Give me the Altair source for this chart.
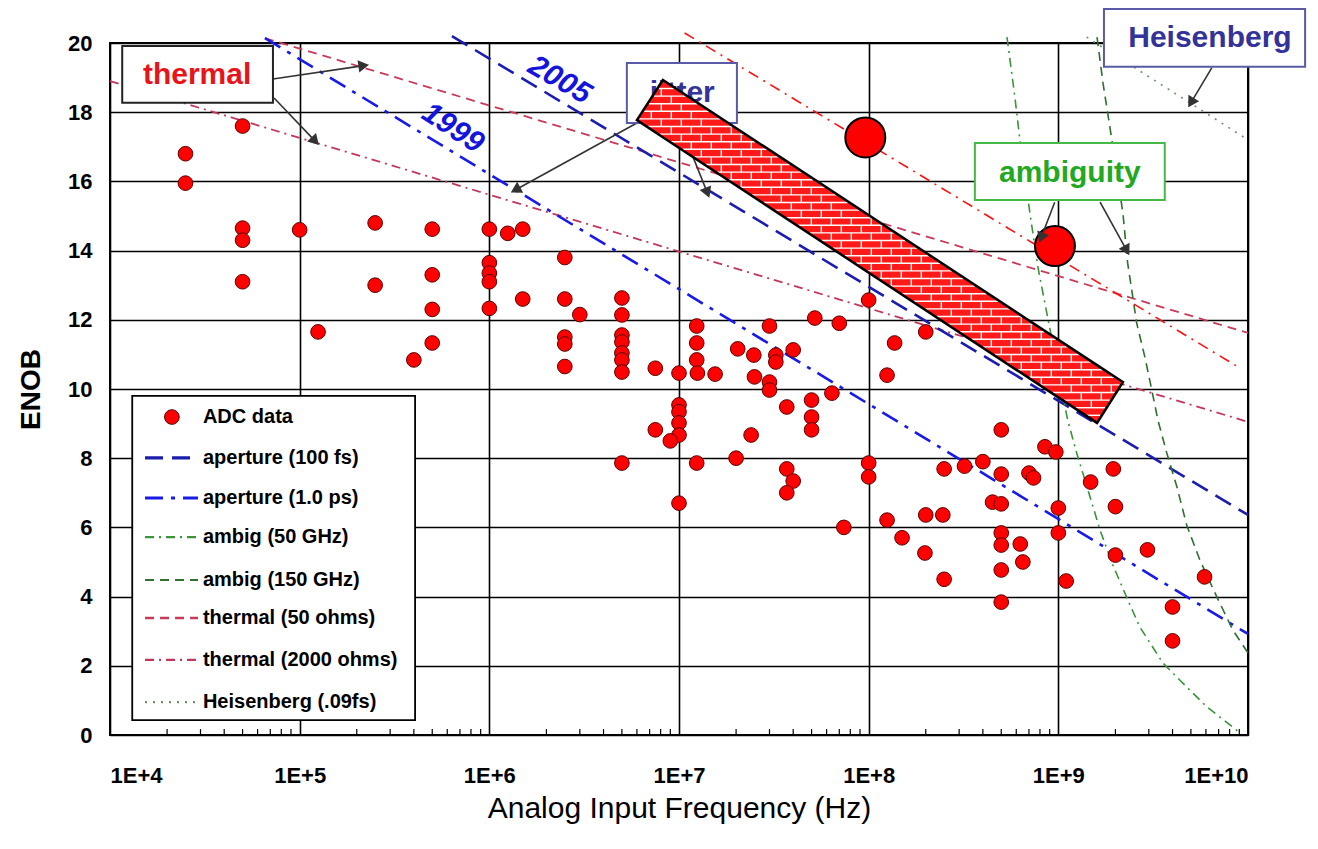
import numpy as np
import pandas as pd
import altair as alt

# ---------------------------------------------------------------- layout
W, H = 1138, 692
PX_DEC = W / 6.0      # pixels per decade (x)
PX_E = H / 20.0       # pixels per ENOB bit (y)
SANS = "'Liberation Sans', Arial, sans-serif"

# ---------------------------------------------------------------- data
adc_freq = [2.5e4, 2.5e4, 5e4, 5e4, 5e4, 5e4, 1e5, 1.25e5, 2.5e5, 2.5e5,
            4e5, 5e5, 5e5, 5e5, 5e5, 1e6, 1e6, 1e6, 1e6, 1e6,
            1.25e6, 1.5e6, 1.5e6, 2.5e6, 2.5e6, 2.5e6, 2.5e6, 2.5e6, 3e6,
            5e6, 5e6, 5e6, 5e6, 5e6, 5e6, 5e6,
            7.5e6, 1e7, 1.24e7, 1.24e7, 1.24e7, 1.25e7, 1.55e7,
            1e7, 1e7, 1e7, 1e7, 7.5e6, 9e6, 5e6, 1.24e7, 2e7, 1e7,
            2.04e7, 2.48e7, 2.5e7, 3e7, 3.24e7, 3.24e7, 3e7, 3e7, 4e7, 5.2e7, 7e7,
            2.4e7, 3.7e7, 3.7e7, 4e7, 3.7e7, 5e7, 5e7, 5e7, 6.4e7,
            1e8, 1e8, 1e8, 7.4e7, 1.25e8, 1.25e8, 1.37e8, 1.5e8, 1.98e8, 2e8, 2.46e8, 2.5e8, 2.5e8,
            3.2e8, 4e8, 5e8, 5e8, 4.5e8, 5e8, 5e8, 5e8, 5e8, 5e8, 6.3e8, 6.5e8, 7e8, 7.4e8,
            8.5e8, 9.7e8, 1e9, 1e9, 1.1e9, 1.48e9, 1.95e9, 2e9, 2e9, 2.95e9, 4e9, 4e9, 5.9e9, 2e8]
adc_enob = [16.8, 15.95, 17.6, 14.65, 14.3, 13.1, 14.6, 11.65, 14.8, 13.0,
            10.84, 14.62, 13.3, 12.3, 11.33, 14.62, 13.65, 13.35, 13.1, 12.33,
            14.5, 14.62, 12.6, 13.8, 12.6, 11.5, 11.3, 10.65, 12.15,
            12.63, 12.14, 11.56, 11.36, 11.04, 10.84, 10.49,
            10.6, 10.46, 11.82, 11.33, 10.84, 10.46, 10.43,
            9.54, 9.34, 9.02, 8.67, 8.82, 8.5, 7.86, 7.86, 8.0, 6.7,
            11.16, 10.98, 10.35, 11.82, 10.98, 10.78, 10.2, 9.97, 11.13, 12.05, 11.9,
            8.67, 9.48, 7.69, 7.34, 7.0, 9.68, 9.19, 8.82, 9.88,
            12.57, 7.86, 7.46, 6.0, 6.21, 10.4, 11.33, 5.7, 5.26, 6.36, 6.36, 4.5, 7.69,
            7.77, 7.9, 8.82, 7.54, 6.73, 6.68, 5.84, 5.49, 4.77, 3.84, 5.52, 5.0, 7.57, 7.43,
            8.33, 8.18, 6.56, 5.84, 4.45, 7.31, 7.69, 6.6, 5.2, 5.35, 3.7, 2.72, 4.57, 11.65]
assert len(adc_freq) == len(adc_enob)

big_freq = [9.6e7, 9.6e8]
big_enob = [17.27, 14.13]

ap100_f = [6.35e5, 1.0e10]
ap100_e = [20.2, 6.36]
ap1ps_f = [6.56e4, 1.0e10]
ap1ps_e = [20.14, 2.92]
th50_f = [6.56e4, 1.0e10]
th50_e = [20.14, 11.62]
th2k_f = [1.0e4, 1.0e10]
th2k_e = [18.9, 9.05]
heis_f = [1.41e9, 1.0e10]
heis_e = [20.17, 17.2]
jit_f = [1.07e7, 8.73e9]
jit_e = [20.29, 10.66]
amb50_f = [5.36e8, 5.90e8, 6.27e8, 7.08e8, 7.80e8, 8.69e8, 1.12e9, 1.25e9, 1.47e9,
           1.66e9, 1.94e9, 2.30e9, 2.69e9, 3.56e9, 4.53e9, 6.07e9, 8.32e9, 9.06e9]
amb50_e = [20.17, 18.44, 17.2, 15.09, 13.53, 12.2, 9.1, 8.15, 6.88,
           5.92, 4.91, 3.96, 3.12, 2.08, 1.5, 0.81, 0.23, 0.06]
amb150_f = [1.60e9, 1.72e9, 1.87e9, 2.19e9, 2.32e9, 2.59e9, 2.86e9, 3.11e9, 3.35e9,
            3.73e9, 4.22e9, 4.75e9, 5.57e9, 6.85e9, 8.32e9, 1.0e10]
amb150_e = [20.17, 18.84, 17.57, 15.09, 13.64, 11.9, 10.92, 9.97, 9.1,
            8.15, 7.17, 6.07, 5.06, 3.99, 3.03, 2.37]

# brick band corners (left, top, right, bottom)
brick_f = [6.0e6, 8.22e6, 2.19e9, 1.60e9]
brick_e = [17.77, 18.93, 10.2, 9.02]

# annotation boxes
box_text = ["thermal", "jitter", "ambiguity", "Heisenberg"]
box_f1 = [1.16e4, 5.31e6, 3.63e8, 1.74e9]
box_f2 = [7.23e4, 2.02e7, 3.64e9, 2.0e10]
box_e1 = [18.27, 17.69, 15.46, 19.31]
box_e2 = [19.91, 19.42, 17.11, 20.98]
box_tf = [2.88e4, 1.04e7, 1.15e9, 6.3e9]
box_te = [19.08, 18.55, 16.24, 20.14]
box_stroke = ["#222222", "#5a5aa8", "#45b845", "#5a5aa8"]
box_color = ["#e8141a", "#333399", "#22a822", "#333399"]

year_text = ["2005", "1999"]
year_f = [2.35e6, 6.43e5]
year_e = [18.93, 17.54]
year_angle = [30, 33]

arrow_f1 = [7.23e4, 7.33e4, 6.0e6, 1.01e7, 9.57e8, 1.66e9, 6.44e9]
arrow_e1 = [18.96, 18.41, 17.69, 17.66, 15.4, 15.4, 19.28]
arrow_f2 = [2.13e5, 1.19e5, 1.40e6, 1.40e7, 8.18e8, 2.27e9, 5.06e9]
arrow_e2 = [19.34, 17.2, 15.78, 15.72, 14.42, 14.05, 18.32]

legend_labels = ["ADC data", "aperture (100 fs)", "aperture (1.0 ps)", "ambig (50 GHz)",
                 "ambig (150 GHz)", "thermal (50 ohms)", "thermal (2000 ohms)", "Heisenberg (.09fs)"]
legend_e = [9.19, 8.01, 6.85, 5.72, 4.48, 3.38, 2.17, 0.95]
legend_box_f = [1.31e4, 4.06e5]
legend_box_e = [0.43, 9.8]
legend_line_f = [1.53e4, 2.91e4]
legend_mark_f = 2.12e4
legend_text_f = 3.09e4

decades = [1e4, 1e5, 1e6, 1e7, 1e8, 1e9, 1e10]
enob_ticks = list(range(0, 21, 2))
minor_ticks = [m * 10 ** k for k in range(4, 10) for m in range(2, 10)]

# ---------------------------------------------------------------- scales / axes
xs = alt.Scale(type="log", domain=[1e4, 1e10], nice=False)
ys = alt.Scale(domain=[0, 20], nice=False, zero=False)

x_axis = alt.Axis(values=decades, labelExpr="'1E+' + round(log(datum.value)/LN10)",
                  grid=True, gridColor="black", gridWidth=1.6, gridOpacity=1,
                  ticks=False, domain=False, labelFont=SANS, labelFontWeight="bold",
                  labelFontSize=22, labelColor="black", labelPadding=30,
                  title="Analog Input Frequency (Hz)", titleFont=SANS, titleFontSize=30,
                  titleFontWeight="normal", titleColor="black", titlePadding=7)
y_axis = alt.Axis(values=enob_ticks, grid=True, gridColor="black", gridWidth=1.6,
                  gridOpacity=1, ticks=False, domain=False, labelFont=SANS,
                  labelFontWeight="bold", labelFontSize=22, labelColor="black",
                  labelPadding=18, title="ENOB", titleFont=SANS, titleFontSize=28,
                  titleFontWeight="bold", titleColor="black", titlePadding=22)


def XE(field="f"):
    return alt.X(f"{field}:Q", scale=xs, axis=x_axis)


def YE(field="e"):
    return alt.Y(f"{field}:Q", scale=ys, axis=y_axis)


layers = []

# ---------------------------------------------------------------- model lines
styles = [
    # key, f, e, color, dash, width, legend index
    ("th2k", th2k_f, th2k_e, "#c2365c", [9, 5, 2, 5], 1.8, 6),
    ("th50", th50_f, th50_e, "#c83a5a", [9, 6], 1.8, 5),
    ("ap1ps", ap1ps_f, ap1ps_e, "#1a1ae8", [18, 8, 4, 8], 2.6, 2),
    ("ap100", ap100_f, ap100_e, "#1c1cae", [18, 9], 2.6, 1),
    ("amb50", amb50_f, amb50_e, "#3c933c", [9, 5, 2, 5], 1.6, 3),
    ("amb150", amb150_f, amb150_e, "#2f6f2f", [9, 6], 1.6, 4),
    ("heis", heis_f, heis_e, "#6f916f", [2, 6], 1.6, 7),
    ("jit", jit_f, jit_e, "#ff1010", [11, 6, 2, 6], 1.6, None),
]
for key, fl, el, color, dash, width, li in styles:
    df = pd.DataFrame({"f": fl, "e": el, "i": list(range(len(fl)))})
    layers.append(
        alt.Chart(df).mark_line(color=color, strokeDash=dash, strokeWidth=width)
        .encode(x=XE(), y=YE(), order="i:Q")
    )

# minor ticks on the frequency axis
layers.append(
    alt.Chart(pd.DataFrame({"f": minor_ticks, "e": 0.0, "e2": 0.17}))
    .mark_rule(color="black", strokeWidth=1.2)
    .encode(x=XE(), y=YE(), y2=alt.Y2("e2:Q"))
)

# ADC data points
layers.append(
    alt.Chart(pd.DataFrame({"f": adc_freq, "e": adc_enob}))
    .mark_point(shape="circle", filled=True, fill="#ff0000", stroke="#5a0000",
                strokeWidth=1, size=215, opacity=1)
    .encode(x=XE(), y=YE())
)
# two big projected points
layers.append(
    alt.Chart(pd.DataFrame({"f": big_freq, "e": big_enob}))
    .mark_point(shape="circle", filled=True, fill="#ff0000", stroke="black",
                strokeWidth=2, size=1600, opacity=1)
    .encode(x=XE(), y=YE())
)

# ---------------------------------------------------------------- arrows
arr_rows, head_rows = [], []
for k in range(len(arrow_f1)):
    arr_rows += [{"f": arrow_f1[k], "e": arrow_e1[k], "id": k, "i": 0},
                 {"f": arrow_f2[k], "e": arrow_e2[k], "id": k, "i": 1}]
    dx = (np.log10(arrow_f2[k]) - np.log10(arrow_f1[k])) * PX_DEC
    dy = (arrow_e2[k] - arrow_e1[k]) * PX_E
    ang = float(np.degrees(np.arctan2(dx, dy)) % 360)
    head_rows.append({"f": arrow_f2[k], "e": arrow_e2[k], "a": ang})
layers.append(
    alt.Chart(pd.DataFrame(arr_rows)).mark_line(color="#333333", strokeWidth=1.6)
    .encode(x=XE(), y=YE(), detail="id:N", order="i:Q")
)
layers.append(
    alt.Chart(pd.DataFrame(head_rows))
    .mark_point(shape="triangle", filled=True, fill="#333333", stroke="#333333",
                size=80, opacity=1)
    .encode(x=XE(), y=YE(), angle=alt.Angle("a:Q", scale=None))
)

# ---------------------------------------------------------------- annotation boxes
box_df = pd.DataFrame({"f": box_f1, "f2": box_f2, "e": box_e1, "e2": box_e2,
                       "sc": box_stroke, "tf": box_tf, "te": box_te,
                       "t": box_text, "c": box_color})
layers.append(
    alt.Chart(box_df).mark_rect(fill="white", strokeWidth=2)
    .encode(x=XE(), x2=alt.X2("f2:Q"), y=YE(), y2=alt.Y2("e2:Q"),
            stroke=alt.Stroke("sc:N", scale=None))
)
layers.append(
    alt.Chart(box_df).mark_text(font=SANS, fontWeight="bold", fontSize=30,
                                align="center", baseline="middle")
    .encode(x=XE("tf"), y=YE("te"), text="t:N", color=alt.Color("c:N", scale=None))
)

# ---------------------------------------------------------------- brick band
bx = np.log10(brick_f) * PX_DEC
by = np.array(brick_e) * PX_E
edges = [((bx[i], by[i]), (bx[(i + 1) % 4], by[(i + 1) % 4])) for i in range(4)]


def x_span(y):
    out = []
    for (x1, y1), (x2, y2) in edges:
        if y1 != y2 and min(y1, y2) <= y <= max(y1, y2):
            out.append(x1 + (y - y1) * (x2 - x1) / (y2 - y1))
    return (min(out), max(out)) if out else None


def y_span(x):
    out = []
    for (x1, y1), (x2, y2) in edges:
        if x1 != x2 and min(x1, x2) <= x <= max(x1, x2):
            out.append(y1 + (x - x1) * (y2 - y1) / (x2 - x1))
    return min(out), max(out)


area_rows = []
for x in sorted(bx):
    lo, hi = y_span(x)
    area_rows.append({"f": 10 ** (x / PX_DEC), "e": hi / PX_E, "e2": lo / PX_E})
area_df = pd.DataFrame(area_rows)

ROW, BRICK = 7.6, 20.0
hrows, joints = [], []
yy, k = by.min(), 0
while yy < by.max():
    top = min(yy + ROW, by.max())
    if top < by.max() - 1:
        s = x_span(top)
        if s and s[1] - s[0] > 3:
            hrows.append({"f": 10 ** ((s[0] + 1.5) / PX_DEC), "f2": 10 ** ((s[1] - 1.5) / PX_DEC),
                          "e": top / PX_E})
    a, b = x_span(yy + 0.01), x_span(top - 0.01)
    if a and b:
        lo, hi = max(a[0], b[0]), min(a[1], b[1])
        xj = np.floor(lo / BRICK) * BRICK + (k % 2) * BRICK / 2
        while xj < hi - 1:
            if xj > lo + 1:
                joints.append({"f": 10 ** (xj / PX_DEC), "e": yy / PX_E, "e2": top / PX_E})
            xj += BRICK
    yy, k = top, k + 1

layers.append(
    alt.Chart(area_df).mark_area(fill="#ff1a1a", opacity=1)
    .encode(x=XE(), y=YE(), y2=alt.Y2("e2:Q"))
)
layers.append(
    alt.Chart(pd.DataFrame(hrows)).mark_rule(color="white", strokeWidth=1.4)
    .encode(x=XE(), x2=alt.X2("f2:Q"), y=YE())
)
layers.append(
    alt.Chart(pd.DataFrame(joints)).mark_rule(color="white", strokeWidth=1.4)
    .encode(x=XE(), y=YE(), y2=alt.Y2("e2:Q"))
)
layers.append(
    alt.Chart(area_df).mark_area(fillOpacity=0, stroke="black", strokeWidth=2.5)
    .encode(x=XE(), y=YE(), y2=alt.Y2("e2:Q"))
)

# ---------------------------------------------------------------- year labels
layers.append(
    alt.Chart(pd.DataFrame({"f": year_f, "e": year_e, "t": year_text, "a": year_angle}))
    .mark_text(font=SANS, fontWeight="bold", fontStyle="italic", fontSize=30,
               color="#1414dc", align="center", baseline="middle")
    .encode(x=XE(), y=YE(), text="t:N", angle=alt.Angle("a:Q", scale=None))
)

# ---------------------------------------------------------------- legend (drawn in the plot)
layers.append(
    alt.Chart(pd.DataFrame({"f": [legend_box_f[0]], "f2": [legend_box_f[1]],
                            "e": [legend_box_e[0]], "e2": [legend_box_e[1]]}))
    .mark_rect(fill="white", stroke="black", strokeWidth=1.8)
    .encode(x=XE(), x2=alt.X2("f2:Q"), y=YE(), y2=alt.Y2("e2:Q"))
)
for key, fl, el, color, dash, width, li in styles:
    if li is None:
        continue
    layers.append(
        alt.Chart(pd.DataFrame({"f": legend_line_f, "e": [legend_e[li]] * 2}))
        .mark_line(color=color, strokeDash=dash, strokeWidth=width + 0.6)
        .encode(x=XE(), y=YE())
    )
layers.append(
    alt.Chart(pd.DataFrame({"f": [legend_mark_f], "e": [legend_e[0]]}))
    .mark_point(shape="circle", filled=True, fill="#ff0000", stroke="#5a0000",
                strokeWidth=1, size=215, opacity=1)
    .encode(x=XE(), y=YE())
)
layers.append(
    alt.Chart(pd.DataFrame({"f": [legend_text_f] * len(legend_labels), "e": legend_e,
                            "t": legend_labels}))
    .mark_text(font=SANS, fontWeight="bold", fontSize=20, color="black",
               align="left", baseline="middle")
    .encode(x=XE(), y=YE(), text="t:N")
)

chart = (
    alt.layer(*layers)
    .properties(width=W, height=H,
                padding={"left": 102, "top": 35, "right": 62, "bottom": 98},
                autosize=alt.AutoSizeParams(type="none"), background="white")
    .configure_view(stroke="black", strokeWidth=2)
)

chart.save("out.html", embed_options={"renderer": "svg", "actions": False})
